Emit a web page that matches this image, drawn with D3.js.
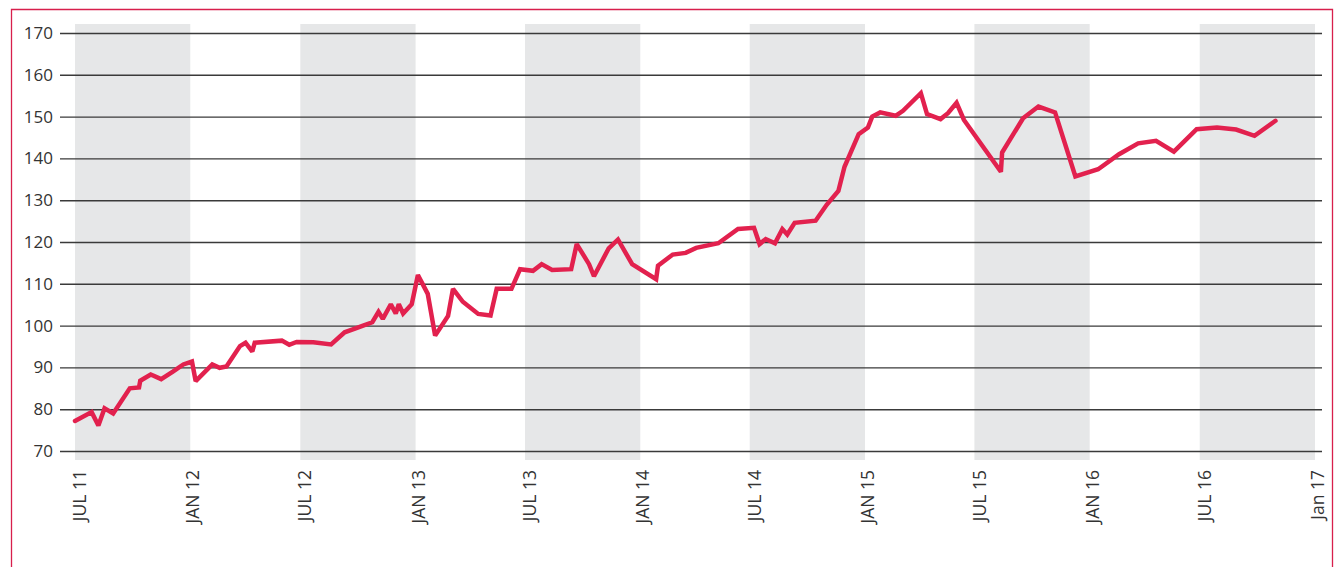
<!DOCTYPE html>
<html>
<head>
<meta charset="utf-8">
<script src="https://cdn.jsdelivr.net/npm/d3@7"></script>
<style>
  body { margin: 0; background: #fff; }
  svg { display: block; }
  text { font-family: 'Open Sans', sans-serif; fill: #333; }
</style>
</head>
<body>
<div class="d3-content"></div>
<script>
/************************/
/*         Data         */
/************************/
const dates = [
  '2011-07-01', '2011-07-28', '2011-08-08', '2011-08-18', '2011-09-01', '2011-09-28',
  '2011-10-13', '2011-10-15', '2011-11-01', '2011-11-18', '2011-12-07', '2011-12-24',
  '2012-01-07', '2012-01-13', '2012-02-09', '2012-02-21', '2012-03-03', '2012-03-25',
  '2012-04-03', '2012-04-14', '2012-04-18', '2012-06-01', '2012-06-13', '2012-06-25',
  '2012-07-22', '2012-08-20', '2012-09-11', '2012-09-30', '2012-10-11', '2012-10-26',
  '2012-11-05', '2012-11-12', '2012-11-25', '2012-12-03', '2012-12-08', '2012-12-15',
  '2012-12-29', '2013-01-08', '2013-01-24', '2013-02-05', '2013-02-26', '2013-03-06',
  '2013-03-22', '2013-04-16', '2013-05-06', '2013-05-16', '2013-06-09', '2013-06-23',
  '2013-07-14', '2013-07-28', '2013-08-14', '2013-09-14', '2013-09-23', '2013-10-13',
  '2013-10-21', '2013-11-14', '2013-11-29', '2013-12-22', '2014-01-30', '2014-02-02',
  '2014-02-26', '2014-03-19', '2014-04-05', '2014-05-11', '2014-06-12', '2014-07-08',
  '2014-07-17', '2014-07-27', '2014-08-11', '2014-08-23', '2014-08-31', '2014-09-12',
  '2014-10-16', '2014-11-03', '2014-11-22', '2014-12-02', '2014-12-25', '2015-01-09',
  '2015-01-16', '2015-01-29', '2015-02-23', '2015-03-07', '2015-04-05', '2015-04-15',
  '2015-05-07', '2015-05-19', '2015-06-02', '2015-06-14', '2015-08-13', '2015-08-15',
  '2015-09-18', '2015-10-13', '2015-11-09', '2015-12-12', '2016-01-18', '2016-02-21',
  '2016-03-23', '2016-04-21', '2016-05-20', '2016-06-26', '2016-07-29', '2016-08-29',
  '2016-09-28', '2016-11-01'
];
const values = [
  77.2, 79.3, 76.1, 80.2, 79.0, 85.0,
  85.2, 86.8, 88.3, 87.2, 89.0, 90.7,
  91.4, 86.7, 90.7, 89.9, 90.2, 95.1,
  95.9, 93.8, 95.9, 96.4, 95.4, 96.1,
  96.0, 95.5, 98.4, 99.4, 100.0, 100.8,
  103.3, 101.6, 105.1, 102.9, 105.1, 102.9,
  105.1, 112.1, 107.6, 97.6, 102.3, 108.8,
  105.7, 102.8, 102.4, 108.8, 108.8, 113.5,
  113.1, 114.7, 113.3, 113.5, 119.5, 114.7,
  111.8, 118.5, 120.6, 114.7, 111.1, 114.3,
  117.0, 117.4, 118.6, 119.7, 123.1, 123.4,
  119.5, 120.7, 119.7, 123.1, 121.8, 124.6,
  125.1, 128.9, 132.2, 138.0, 145.8, 147.4,
  150.0, 151.0, 150.2, 151.4, 155.6, 150.6,
  149.4, 150.8, 153.3, 149.2, 136.8, 141.4,
  149.6, 152.4, 151.0, 135.7, 137.4, 141.0,
  143.6, 144.2, 141.6, 147.0, 147.4, 146.9,
  145.4, 149.0
];
const tickDates = [
  '2011-07-01', '2012-01-01', '2012-07-01', '2013-01-01', '2013-07-01', '2014-01-01',
  '2014-07-01', '2015-01-01', '2015-07-01', '2016-01-01', '2016-07-01', '2017-01-01'
];
const tickLabels = [
  'JUL 11', 'JAN 12', 'JUL 12', 'JAN 13', 'JUL 13', 'JAN 14',
  'JUL 14', 'JAN 15', 'JUL 15', 'JAN 16', 'JUL 16', 'Jan 17'
];
const yTicks = [70, 80, 90, 100, 110, 120, 130, 140, 150, 160, 170];


/************************/
/*      Dimensions      */
/************************/
const width = 1335;
const height = 567;
const margin = { top: 33, right: 22, bottom: 116, left: 75 };
const innerWidth = 1313 - margin.left;
const innerHeight = 451 - margin.top;


/**********************/
/*       Colors       */
/**********************/
const lineColor = '#e2214e';
const borderColor = '#d81f4c';
const bandColor = '#e6e7e8';
const gridColor = '#3a3a3a';


const parseDate = d3.timeParse('%Y-%m-%d');
const data = dates.map((d, i) => ({ date: parseDate(d), value: values[i] }));
const ticks = tickDates.map(parseDate);

// drawChart
const drawChart = () => {

  const svg = d3.select('.d3-content')
    .append('svg')
      .attr('width', width)
      .attr('height', height);

  // frame: left, top and right edges (the bottom runs off the picture)
  svg
    .append('path')
      .attr('d', `M11.5,${height} V9.5 H1332.5 V${height}`)
      .attr('fill', 'none')
      .attr('stroke', borderColor)
      .attr('stroke-width', 1.3);

  const innerChart = svg
    .append('g')
      .attr('transform', `translate(${margin.left}, ${margin.top})`);

  /****************************/
  /*    Declare the scales    */
  /****************************/
  const xScale = d3.scaleTime()
    .domain([ticks[0], ticks[ticks.length - 1]])
    .range([0, innerWidth]);

  const yScale = d3.scaleLinear()
    .domain([70, 170])
    .range([innerHeight, 0]);

  /****************************/
  /*     Half-year bands      */
  /****************************/
  const bands = ticks.filter((d, i) => i % 2 === 0 && i < ticks.length - 1)
    .map((d, i) => [d, ticks[i * 2 + 1]]);

  innerChart
    .selectAll('.band')
    .data(bands)
    .join('rect')
      .attr('class', 'band')
      .attr('x', d => xScale(d[0]))
      .attr('y', -9)
      .attr('width', d => xScale(d[1]) - xScale(d[0]) + 2)
      .attr('height', innerHeight + 18)
      .attr('fill', bandColor);

  /****************************/
  /*      Grid and y axis     */
  /****************************/
  const leftAxis = d3.axisLeft(yScale)
    .tickValues(yTicks)
    .tickSize(-(1322 - 60))
    .tickSizeOuter(0)
    .tickPadding(7);

  const yAxis = innerChart
    .append('g')
      .attr('transform', `translate(${60 - margin.left}, 0)`)
      .call(leftAxis);
  yAxis.select('.domain').remove();
  yAxis.selectAll('.tick line')
    .attr('stroke', gridColor)
    .attr('stroke-width', 1.4);
  yAxis.selectAll('.tick text')
    .attr('font-size', 17)
    .attr('fill', '#2b2b2b')
    .style('font-family', "'Open Sans', sans-serif");

  /****************************/
  /*          X axis          */
  /****************************/
  innerChart
    .selectAll('.x-label')
    .data(ticks)
    .join('text')
      .attr('class', 'x-label')
      .text((d, i) => tickLabels[i])
      .attr('text-anchor', 'end')
      .attr('dy', '0.35em')
      .attr('font-size', 17.5)
      .attr('fill', '#2b2b2b')
      .attr('transform', d => `translate(${xScale(d) + 5}, ${innerHeight + 19}) rotate(-90)`);

  /****************************/
  /*         The line         */
  /****************************/
  const lineGenerator = d3.line()
    .x(d => xScale(d.date))
    .y(d => yScale(d.value));

  innerChart
    .append('path')
      .attr('d', lineGenerator(data))
      .attr('fill', 'none')
      .attr('stroke', lineColor)
      .attr('stroke-width', 4.5)
      .attr('stroke-linejoin', 'miter')
      .attr('stroke-miterlimit', 2)
      .attr('stroke-linecap', 'round');
};

drawChart();
</script>
</body>
</html>
